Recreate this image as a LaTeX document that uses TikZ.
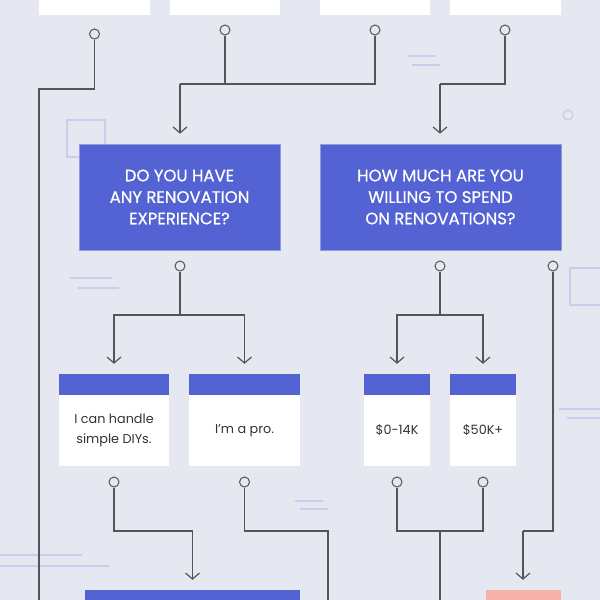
\documentclass[tikz,border=0pt]{standalone}
\usepackage{fontspec}
\setmainfont{Poppins}
\newfontfamily\qfont[FakeBold=0.5]{Poppins}
\usetikzlibrary{arrows.meta}

\definecolor{bgcol}{HTML}{E5E7F1}
\definecolor{qblue}{HTML}{5463D3}
\definecolor{qpink}{HTML}{F8B2A9}
\definecolor{linecol}{HTML}{555555}
\definecolor{decocol}{HTML}{CACDEE}
\definecolor{txtcol}{HTML}{333333}

\begin{document}
\begin{tikzpicture}[x=1pt, y=-1pt,
    question/.style={fill=qblue, draw=qblue!65!white, line width=0.6pt, text=white,
        align=center, inner sep=0pt, font=\qfont\fontsize{16.5}{21.5}\selectfont},
    answer/.style={fill=white, text=txtcol, align=center, inner sep=0pt,
        minimum height=71pt, font=\fontsize{12.8}{20}\selectfont},
    topbox/.style={fill=white, minimum height=30pt, inner sep=0pt},
    port/.style={circle, draw=linecol, fill=bgcol, line width=1pt,
        minimum size=10pt, inner sep=0pt},
    link/.style={draw=linecol, line width=1.2pt},
    arrow/.style={link, -{Straight Barb[length=6pt,width=14pt]}, shorten >=10pt},
    deco/.style={draw=decocol, line width=1.2pt}]

    % 背景
    \useasboundingbox (0,0) rectangle (600,600);
    \clip (0,0) rectangle (600,600);
    \fill[bgcol] (0,0) rectangle (600,600);

    % 装饰
    \draw[deco] (67,120) rectangle (105,157);
    \draw[deco] (70,278) -- (112,278) (78,288) -- (119,288);
    \draw[deco] (408,56) -- (435,56) (412,65) -- (440,65);
    \draw[deco] (568,115) circle (5);
    \draw[deco] (570,268) rectangle (620,305);
    \draw[deco] (559,409) -- (600,409) (567,418) -- (600,418);
    \draw[deco] (295,501) -- (323,501) (300,509) -- (328,509);
    \draw[deco] (0,555) -- (82,555) (0,566) -- (109,566);

    % 上一层的方框
    \node[topbox, minimum width=111pt] (t1) at (94.5,0) {};
    \node[topbox, minimum width=110pt] (t2) at (225,0) {};
    \node[topbox, minimum width=110pt] (t3) at (375,0) {};
    \node[topbox, minimum width=111pt] (t4) at (505.5,0) {};

    % 问题
    \node[question, minimum width=201pt, minimum height=106pt] (q1) at (179.5,197)
        {DO YOU HAVE\\ANY RENOVATION\\EXPERIENCE?};
    \node[question, minimum width=241pt, minimum height=106pt] (q2) at (440.5,197)
        {HOW MUCH ARE YOU\\WILLING TO SPEND\\ON RENOVATIONS?};

    % 回答
    \node[answer, minimum width=110pt] (a1) at (114,430.5) {I can handle\\simple DIYs.};
    \node[answer, minimum width=111pt] (a2) at (244.5,430.5) {I’m a pro.};
    \node[answer, minimum width=66pt] (a3) at (397,430.5) {\$0-14K};
    \node[answer, minimum width=66pt] (a4) at (483,430.5) {\$50K+};
    \foreach \n in {a1,a2,a3,a4}
        \fill[qblue] (\n.north west) rectangle ([yshift=21pt]\n.north east);

    % 下一层的方框
    \node[fill=qblue, minimum width=215pt, minimum height=40pt, inner sep=0pt] (r1) at (192.5,610) {};
    \node[fill=qpink, minimum width=75pt, minimum height=40pt, inner sep=0pt] (r2) at (523,610) {};

    % 圆点
    \node[port] (c1) at (94.5,34) {};
    \node[port] (c2) at (225,30) {};
    \node[port] (c3) at (375,30) {};
    \node[port] (c4) at (505,30) {};
    \node[port] (c5) at (180,266) {};
    \node[port] (c6) at (440,266) {};
    \node[port] (c7) at (553,266) {};
    \node[port] (c8) at (114,482) {};
    \node[port] (c9) at (244.5,482) {};
    \node[port] (c10) at (397,482) {};
    \node[port] (c11) at (483,482) {};

    % 分叉点
    \coordinate (j1) at (39,89);
    \coordinate (j2) at (180,84);
    \coordinate (j3) at (440,84);
    \coordinate (j4) at (180,315);
    \coordinate (j5) at (440,315);
    \coordinate (j6) at (523,531);
    \coordinate (j7) at (192.5,531);
    \coordinate (j8) at (328,531);
    \coordinate (j9) at (440,531);
    \coordinate (e1) at (39,620);
    \coordinate (e2) at (328,620);
    \coordinate (e3) at (440,620);

    % 连线
    \draw[link] (c1) |- (j1) -- (e1);
    \draw[link] (c2) -- (c2 |- j2);
    \draw[link] (c3) |- (j2);
    \draw[arrow] (j2) -- (j2 |- q1.north);
    \draw[link] (c4) |- (j3);
    \draw[arrow] (j3) -- (j3 |- q2.north);

    \draw[link] (c5) -- (j4);
    \draw[arrow, shorten >=31pt] (j4) -| (a1.north);
    \draw[arrow, shorten >=31pt] (j4) -| (a2.north);
    \draw[link] (c6) -- (j5);
    \draw[arrow, shorten >=31pt] (j5) -| (a3.north);
    \draw[arrow, shorten >=31pt] (j5) -| (a4.north);
    \draw[link] (c7) |- (j6);
    \draw[arrow] (j6) -- (j6 |- r2.north);

    \draw[link] (c8) |- (j7);
    \draw[arrow] (j7) -- (j7 |- r1.north);
    \draw[link] (c9) |- (j8) -- (e2);
    \draw[link] (c10) |- (j9) -| (c11);
    \draw[link] (j9) -- (e3);
\end{tikzpicture}
\end{document}
